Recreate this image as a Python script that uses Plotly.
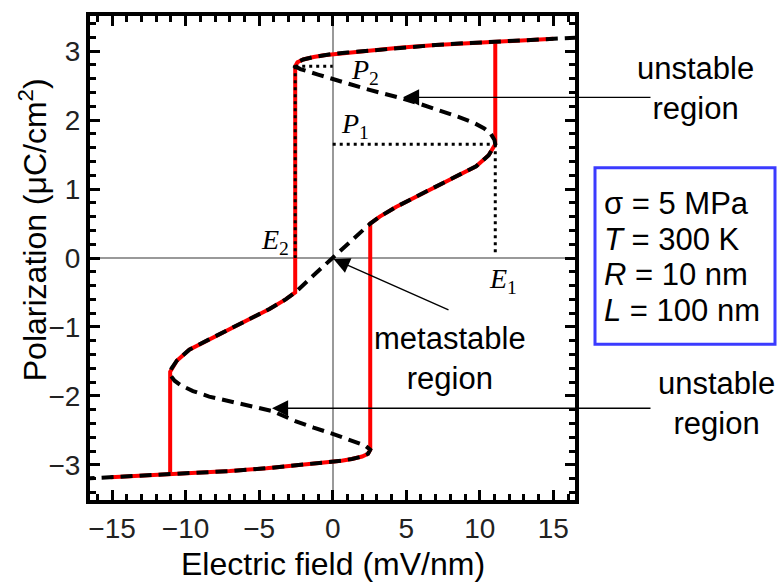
import plotly.graph_objects as go

# ---------------- data ----------------
# Full S-shaped P(E) solution (black dashed), ordered along the curve
curve_E = [-17.0, -15.0, -13.0, -11.0, -9.0, -7.0, -4.5, -3.0, -2.0, -1.0, 0.0, 0.6, 1.3, 2.0, 2.4, 2.55,
           2.2, 1.0, 0.0, -1.3, -2.5, -4.1, -5.5, -7.2, -8.4, -9.5, -10.3, -10.75, -11.0, -11.05,
           -10.95, -10.6, -9.75, -8.4, -6.45, -4.3, -3.2, -2.55,
           -1.3, 0.0, 1.3,
           2.55, 3.2, 4.3, 6.45, 8.4, 9.75, 10.6, 10.95, 11.05,
           11.0, 10.75, 10.3, 9.6, 8.5, 7.3, 6.0, 4.8, 3.5, 2.3, 1.2, 0.0, -1.0, -2.2, -2.55,
           -2.4, -2.0, -1.3, -0.6, 0.0, 1.0, 2.0, 3.0, 4.5, 7.0, 9.0, 11.0, 13.0, 15.0, 17.0]
curve_P = [-3.20, -3.18, -3.16, -3.14, -3.115, -3.09, -3.05, -3.02, -3.0, -2.98, -2.96, -2.94, -2.915, -2.88, -2.84, -2.78,
           -2.72, -2.62, -2.55, -2.46, -2.37, -2.22, -2.15, -2.07, -2.01, -1.93, -1.85, -1.78, -1.71, -1.65,
           -1.6, -1.49, -1.33, -1.18, -0.975, -0.74, -0.6, -0.5,
           -0.25, 0.0, 0.25,
           0.5, 0.6, 0.74, 0.975, 1.18, 1.33, 1.49, 1.6, 1.65,
           1.71, 1.80, 1.88, 1.96, 2.05, 2.14, 2.23, 2.31, 2.38, 2.45, 2.52, 2.59, 2.66, 2.74, 2.78,
           2.84, 2.88, 2.915, 2.94, 2.96, 2.98, 3.0, 3.02, 3.05, 3.09, 3.115, 3.14, 3.16, 3.18, 3.20]

# Hysteresis loop (red): rising branch and falling branch
red_up_E = [-15.1, -13.0, -11.0, -9.0, -7.0, -4.5, -3.0, -2.0, -1.0, 0.0, 0.6, 1.3, 2.0, 2.4, 2.55,
            2.55, 3.2, 4.3, 6.45, 8.4, 9.75, 10.6, 10.95, 11.05, 11.05]
red_up_P = [-3.18, -3.16, -3.14, -3.115, -3.09, -3.05, -3.02, -3.0, -2.98, -2.96, -2.94, -2.915, -2.88, -2.84, -2.78,
            0.5, 0.6, 0.74, 0.975, 1.18, 1.33, 1.49, 1.6, 1.65, 3.14]
red_down_E = [15.0, 13.0, 11.0, 9.0, 7.0, 4.5, 3.0, 2.0, 1.0, 0.0, -0.6, -1.3, -2.0, -2.4, -2.55,
              -2.55, -3.2, -4.3, -6.45, -8.4, -9.75, -10.6, -10.95, -11.05, -11.05]
red_down_P = [3.18, 3.16, 3.14, 3.115, 3.09, 3.05, 3.02, 3.0, 2.98, 2.96, 2.94, 2.915, 2.88, 2.84, 2.78,
              -0.5, -0.6, -0.74, -0.975, -1.18, -1.33, -1.49, -1.6, -1.65, -3.14]

# Dotted guide lines for E1, E2, P1, P2
E1, E2 = 11.05, -2.55
P1, P2 = 1.65, 2.78
guide_E = [E2, 0.0, None, 0.0, E1, None, E1, E1, None, E2, E2]
guide_P = [P2, P2, None, P1, P1, None, P1, 0.05, None, P2, 0.0]

x_ticks = [-15, -10, -5, 0, 5, 10, 15]
y_ticks = [-3, -2, -1, 0, 1, 2, 3]
params = ["σ = 5 MPa", "<i>T</i> = 300 K", "<i>R</i> = 10 nm", "<i>L</i> = 100 nm"]

# ---------------- layout geometry ----------------
W, H = 779, 586
ML, MR, MT, MB = 90, 204, 12, 86
PW, PH = W - ML - MR, H - MT - MB
X_RANGE = [-16.5, 16.47]
Y_RANGE = [-3.51, 3.51]


def pxx(px):
    return (px - ML) / PW


def pxy(py):
    return (H - MB - py) / PH


def dx(px):
    return X_RANGE[0] + (px - ML) / PW * (X_RANGE[1] - X_RANGE[0])


def dy(py):
    return Y_RANGE[1] - (py - MT) / PH * (Y_RANGE[1] - Y_RANGE[0])


SANS = "Liberation Sans, Arial, sans-serif"
SERIF = "Liberation Serif, Times New Roman, serif"

fig = go.Figure()
fig.add_trace(go.Scatter(x=red_up_E, y=red_up_P, mode="lines",
                         line=dict(color="#ff0000", width=4), hoverinfo="skip", showlegend=False))
fig.add_trace(go.Scatter(x=red_down_E, y=red_down_P, mode="lines",
                         line=dict(color="#ff0000", width=4), hoverinfo="skip", showlegend=False))
fig.add_trace(go.Scatter(x=curve_E, y=curve_P, mode="lines",
                         line=dict(color="black", width=4, dash="12px,7px"), hoverinfo="skip", showlegend=False))
fig.add_trace(go.Scatter(x=guide_E, y=guide_P, mode="lines", connectgaps=False,
                         line=dict(color="black", width=3, dash="3px,4px"), hoverinfo="skip", showlegend=False))

axis_common = dict(
    showgrid=False, zeroline=True, zerolinecolor="#999999", zerolinewidth=1.5,
    showline=True, linecolor="black", linewidth=4, mirror="allticks",
    ticks="inside", ticklen=10, tickwidth=3, tickcolor="black",
    tickfont=dict(family=SANS, size=28, color="#222222"),
)
fig.update_xaxes(range=X_RANGE, tickvals=x_ticks,
                 minor=dict(dtick=1, tick0=0, ticks="inside", ticklen=6, tickwidth=3, tickcolor="black"),
                 **axis_common)
fig.update_yaxes(range=Y_RANGE, tickvals=y_ticks,
                 minor=dict(dtick=0.2, tick0=0, ticks="inside", ticklen=6, tickwidth=3, tickcolor="black"),
                 **axis_common)

ann = []
# axis titles
ann.append(dict(text="Electric field (mV/nm)", x=pxx(333), y=pxy(565), xref="paper", yref="paper",
                xanchor="center", yanchor="middle", showarrow=False, font=dict(family=SANS, size=32, color="black")))
ann.append(dict(text="Polarization (μC/cm<sup>2</sup>)", x=pxx(33), y=pxy(228), xref="paper", yref="paper",
                xanchor="center", yanchor="middle", textangle=-90, showarrow=False,
                font=dict(family=SANS, size=32, color="black")))
# region labels
for txt, cx, cy in [("unstable<br>region", 695, 85), ("unstable<br>region", 716, 403),
                    ("metastable<br>region", 450, 357)]:
    ann.append(dict(text=txt, x=pxx(cx), y=pxy(cy), xref="paper", yref="paper", xanchor="center",
                    yanchor="middle", align="center", showarrow=False,
                    font=dict(family=SANS, size=31, color="black")))
# parameters in the blue box
for txt, cy in zip(params, [201, 237, 273, 309]):
    ann.append(dict(text=txt, x=pxx(602), y=pxy(cy), xref="paper", yref="paper", xanchor="left",
                    yanchor="middle", showarrow=False, font=dict(family=SANS, size=31, color="black")))
# E/P labels
for txt, lx, cy in [("<i>P</i><sub>2</sub>", 349, 68), ("<i>P</i><sub>1</sub>", 339, 122),
                    ("<i>E</i><sub>2</sub>", 259, 239), ("<i>E</i><sub>1</sub>", 487, 279)]:
    ann.append(dict(text=txt, x=pxx(lx), y=pxy(cy), xref="paper", yref="paper", xanchor="left",
                    yanchor="middle", showarrow=False, font=dict(family=SERIF, size=28, color="black")))
# arrows
for tip, tail in [((403, 94), (652, 94)), ((272, 407.5), (652, 407.5)), ((333.5, 257), (450, 309))]:
    ann.append(dict(text="", x=dx(tip[0]), y=dy(tip[1]), xref="x", yref="y",
                    ax=dx(tail[0]), ay=dy(tail[1]), axref="x", ayref="y",
                    showarrow=True, arrowhead=2, arrowsize=2.3, arrowwidth=1.4, arrowcolor="black"))

fig.update_layout(
    width=W, height=H, margin=dict(l=ML, r=MR, t=MT, b=MB),
    paper_bgcolor="white", plot_bgcolor="white", showlegend=False,
    annotations=ann,
    shapes=[dict(type="rect", xref="paper", yref="paper", x0=pxx(595), x1=pxx(775), y0=pxy(343), y1=pxy(165),
                 line=dict(color="#3b3bff", width=3), fillcolor="rgba(0,0,0,0)")],
)

fig.write_html("out.html", config={"displayModeBar": False},
               post_script="document.body.style.margin='0px';")
